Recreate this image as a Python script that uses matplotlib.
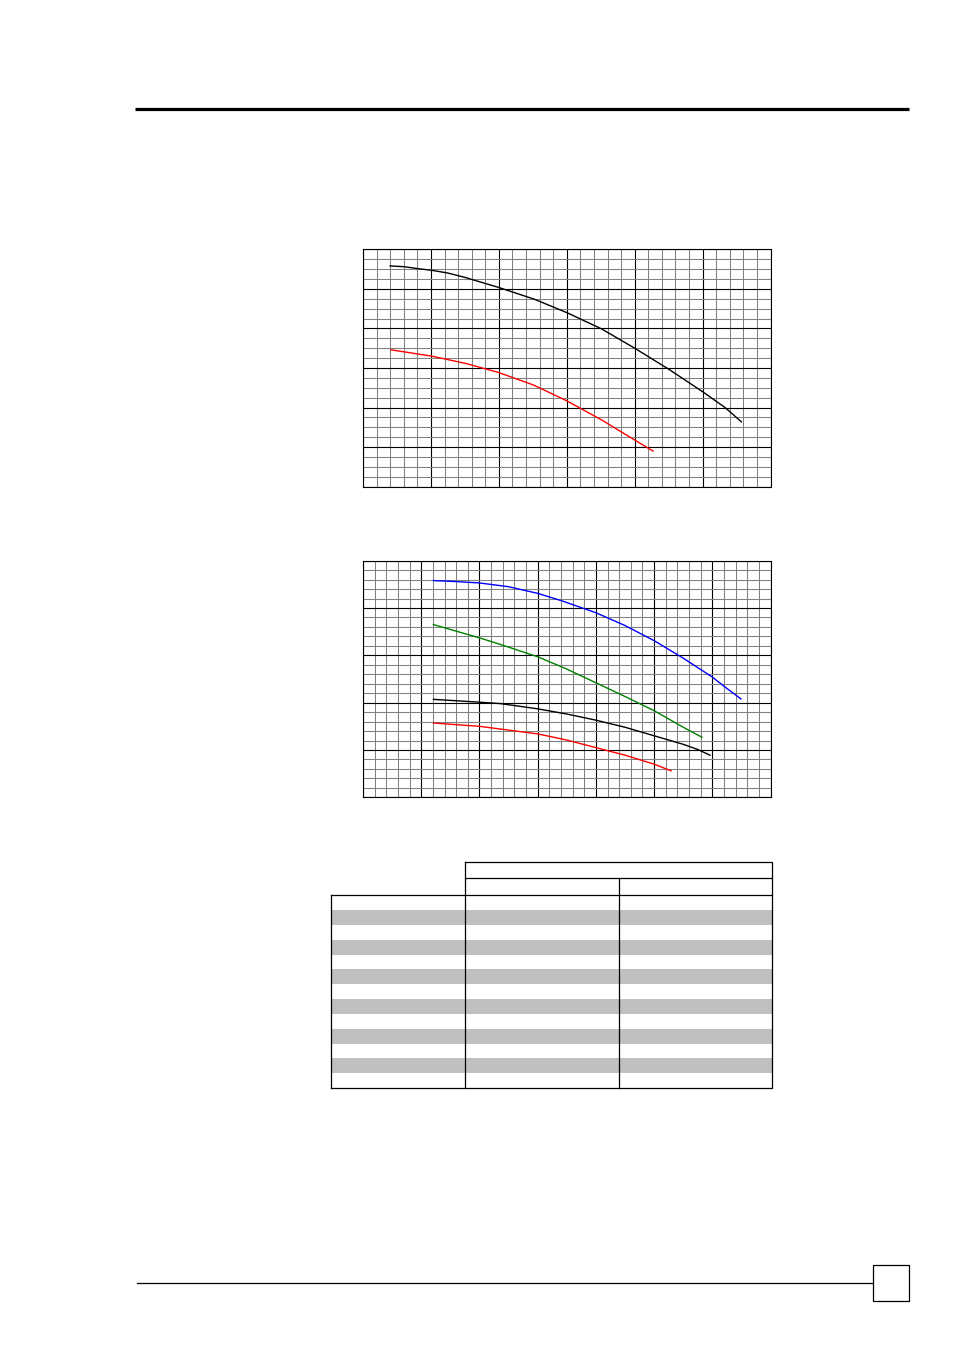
import matplotlib
matplotlib.use("Agg")
import matplotlib.pyplot as plt
import numpy as np

W, H = 954, 1350

# ---- chart 1 (grid units: 6 x 6 major, 5 / 4 minor) ----
c1_black_x = [0.40, 0.61, 0.81, 1.01, 1.25, 1.50, 1.99, 2.52, 3.00, 3.51, 4.00, 4.50, 5.00, 5.33, 5.57]
c1_black_y = [5.58, 5.56, 5.51, 5.47, 5.40, 5.29, 5.04, 4.74, 4.40, 3.99, 3.50, 2.97, 2.40, 2.00, 1.64]
c1_red_x = [0.41, 1.01, 1.50, 1.99, 2.51, 3.00, 3.51, 4.00, 4.27]
c1_red_y = [3.46, 3.30, 3.12, 2.89, 2.57, 2.17, 1.69, 1.18, 0.90]

# ---- chart 2 (grid units: 7 x 5 major, 5 / 5 minor) ----
c2_blue_x = [1.21, 1.58, 2.00, 2.50, 3.00, 3.42, 4.00, 4.50, 5.00, 5.50, 6.00, 6.25, 6.49]
c2_blue_y = [4.58, 4.56, 4.53, 4.45, 4.31, 4.15, 3.90, 3.63, 3.31, 2.94, 2.54, 2.30, 2.08]
c2_green_x = [1.21, 2.00, 2.36, 3.00, 3.50, 4.00, 4.50, 5.00, 5.50, 5.82]
c2_green_y = [3.65, 3.37, 3.23, 2.97, 2.71, 2.42, 2.13, 1.83, 1.48, 1.27]
c2_black_x = [1.21, 2.00, 2.36, 3.00, 3.50, 4.00, 4.50, 5.00, 5.50, 5.75, 5.96]
c2_black_y = [2.07, 2.01, 1.98, 1.87, 1.76, 1.63, 1.48, 1.30, 1.12, 1.01, 0.89]
c2_red_x = [1.21, 2.00, 2.50, 3.00, 3.50, 4.00, 4.50, 5.00, 5.29]
c2_red_y = [1.57, 1.50, 1.42, 1.34, 1.21, 1.05, 0.89, 0.70, 0.56]

# table: 13 body rows, alternating white / grey
n_rows = 13


def rect(x0, y0, x1, y1):
    # pixel box -> figure fraction
    return [x0 / W, 1 - y1 / H, (x1 - x0) / W, (y1 - y0) / H]


def grid_axes(fig, box, nx, ny, mx, my):
    ax = fig.add_axes(rect(*box))
    ax.set_xlim(0, nx)
    ax.set_ylim(0, ny)
    ax.set_xticks(np.arange(0, nx + 1))
    ax.set_yticks(np.arange(0, ny + 1))
    ax.set_xticks(np.arange(0, nx + 1e-9, 1 / mx), minor=True)
    ax.set_yticks(np.arange(0, ny + 1e-9, 1 / my), minor=True)
    ax.grid(which="minor", color="#808080", lw=0.75)
    ax.grid(which="major", color="black", lw=0.8)
    ax.tick_params(which="both", length=0, labelbottom=False, labelleft=False)
    for s in ax.spines.values():
        s.set_color("black")
        s.set_linewidth(0.8)
    ax.set_axisbelow(True)
    return ax


fig = plt.figure(figsize=(W / 100, H / 100), dpi=100)

# page decoration + table in pixel space
page = fig.add_axes([0, 0, 1, 1])
page.set_xlim(0, W)
page.set_ylim(H, 0)
page.axis("off")
page.plot([135, 909], [108.5, 108.5], color="black", lw=2.3, solid_capstyle="butt")
page.plot([137, 873], [1283.3, 1283.3], color="black", lw=0.9)
page.add_patch(plt.Rectangle((873.3, 1265.3), 36, 35.7, fill=False, ec="black", lw=0.9))

tx0, tx1, tx2, tx3 = 331.3, 465.3, 619.3, 772.3
ty_top, ty_mid, ty_body, ty_bot = 861.7, 878.3, 895.3, 1088.0
rh = (ty_bot - ty_body) / n_rows
for i in range(n_rows):
    if i % 2 == 1:
        page.add_patch(plt.Rectangle((tx0, ty_body + i * rh), tx3 - tx0, rh,
                                     color="#c0c0c0", lw=0))
lw_t = 0.9
page.plot([tx1, tx3, tx3, tx1, tx1], [ty_top, ty_top, ty_bot, ty_bot, ty_top], color="black", lw=lw_t)
page.plot([tx0, tx1], [ty_bot, ty_bot], color="black", lw=lw_t)
page.plot([tx0, tx0], [ty_body, ty_bot], color="black", lw=lw_t)
page.plot([tx1, tx3], [ty_mid, ty_mid], color="black", lw=lw_t)
page.plot([tx0, tx3], [ty_body, ty_body], color="black", lw=lw_t)
page.plot([tx2, tx2], [ty_mid, ty_bot], color="black", lw=lw_t)

# chart 1
ax1 = grid_axes(fig, (363, 249.3, 770.6, 486.7), 6, 6, 5, 4)
ax1.plot(c1_black_x, c1_black_y, color="black", lw=1.0)
ax1.plot(c1_red_x, c1_red_y, color="#ff0000", lw=1.0)

# chart 2
ax2 = grid_axes(fig, (363, 560.7, 770.6, 797.3), 7, 5, 5, 5)
ax2.plot(c2_blue_x, c2_blue_y, color="#0000ff", lw=1.0)
ax2.plot(c2_green_x, c2_green_y, color="#008000", lw=1.0)
ax2.plot(c2_black_x, c2_black_y, color="black", lw=1.0)
ax2.plot(c2_red_x, c2_red_y, color="#ff0000", lw=1.0)

fig.savefig("out.png", dpi=100)
